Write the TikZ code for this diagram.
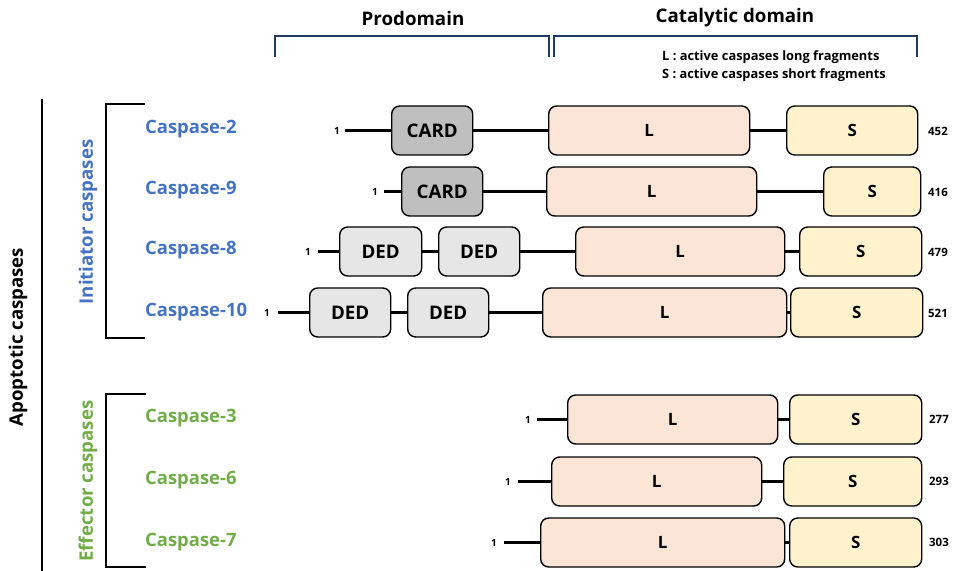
\documentclass[tikz,border=0pt]{standalone}
\usepackage{fontspec}
\setmainfont{Open Sans}
\definecolor{initblue}{HTML}{4472C4}
\definecolor{effgreen}{HTML}{70AD47}
\definecolor{navy}{HTML}{1F3864}
\definecolor{cardgray}{HTML}{BFBFBF}
\definecolor{dedgray}{HTML}{E7E6E6}
\definecolor{lfill}{HTML}{FBE5D6}
\definecolor{sfill}{HTML}{FFF2CC}
\tikzset{
  dom/.style={draw=black, line width=1.4bp, rounded corners=8bp, inner sep=0pt,
    minimum height=49bp, anchor=west, font=\bfseries\fontsize{18.8}{18.8}\selectfont},
  cardbox/.style={dom, fill=cardgray},
  dedbox/.style={dom, fill=dedgray},
  lbox/.style={dom, fill=lfill, font=\bfseries\fontsize{17}{17}\selectfont},
  sbox/.style={dom, fill=sfill, font=\bfseries\fontsize{17}{17}\selectfont},
  conn/.style={line width=3bp, black},
  onelab/.style={font=\bfseries\fontsize{10}{10}\selectfont, inner sep=0pt, anchor=center},
  numlab/.style={font=\bfseries\fontsize{11.5}{11.5}\selectfont, inner sep=0pt, anchor=center},
  casp/.style={font=\bfseries\fontsize{18.5}{18.5}\selectfont, anchor=west, inner sep=0pt},
  grp/.style={font=\bfseries\fontsize{18.7}{18.7}\selectfont, rotate=90, inner sep=0pt},
  head/.style={font=\bfseries\fontsize{18.8}{18.8}\selectfont, inner sep=0pt},
  legend/.style={font=\bfseries\fontsize{12.9}{12.9}\selectfont, anchor=west, inner sep=0pt},
  brk/.style={line width=2bp},
}
\begin{document}
\begin{tikzpicture}[x=1bp,y=-1bp]
\useasboundingbox (0,0) rectangle (955,571);
% headers
\node[head] (hpro) at (413,18) {Prodomain};
\node[head] (hcat) at (735,18) {Catalytic domain};
\draw[brk, navy] (275,57) -- (275,36) -- (549,36) -- (549,57);
\draw[brk, navy] (554,57) -- (554,36) -- (917,36) -- (917,57);
\node[legend] (legL) at (662,57) {L : active caspases long fragments};
\node[legend] (legS) at (662,75) {S : active caspases short fragments};
% left structure
\draw[brk] (42,99) -- (42,571);
\node[grp] (apo) at (18,337) {Apoptotic caspases};
\draw[brk] (145,104) -- (106,104) -- (106,338) -- (145,338);
\node[grp, initblue] (ini) at (88,222) {Initiator caspases};
\draw[brk] (146,394) -- (106,394) -- (106,567) -- (146,567);
\node[grp, effgreen] (eff) at (88,481) {Effector caspases};
% caspase labels
\node[casp, initblue] (c2) at (145,129) {Caspase-2};
\node[casp, initblue] (c9) at (145,190) {Caspase-9};
\node[casp, initblue] (c8) at (145,250) {Caspase-8};
\node[casp, initblue] (c10) at (145,312) {Caspase-10};
\node[casp, effgreen] (c3) at (145,418) {Caspase-3};
\node[casp, effgreen] (c6) at (145,480) {Caspase-6};
\node[casp, effgreen] (c7) at (145,542) {Caspase-7};
% row 1: caspase-2
\node[onelab] (a1) at (337,130.5) {1};
\coordinate (a1s) at (345,130.5);
\node[cardbox, minimum width=81bp] (a2) at (391,130.5) {CARD};
\node[lbox, minimum width=201bp] (a3) at (548,130.5) {L};
\node[sbox, minimum width=131bp] (a4) at (786,130.5) {S};
\node[numlab] (a5) at (938,131) {452};
\draw[conn] (a1s) -- (a2.west) (a2.east) -- (a3.west) (a3.east) -- (a4.west);
% row 2: caspase-9
\node[onelab] (b1) at (375,191.5) {1};
\coordinate (b1s) at (384,191.5);
\node[cardbox, minimum width=81bp] (b2) at (401,191.5) {CARD};
\node[lbox, minimum width=210bp] (b3) at (546,191.5) {L};
\node[sbox, minimum width=97bp] (b4) at (823,191.5) {S};
\node[numlab] (b5) at (938,192) {416};
\draw[conn] (b1s) -- (b2.west) (b2.east) -- (b3.west) (b3.east) -- (b4.west);
% row 3: caspase-8
\node[onelab] (d1) at (308,251.5) {1};
\coordinate (d1s) at (318,251.5);
\node[dedbox, minimum width=82bp] (d2) at (339,251.5) {DED};
\node[dedbox, minimum width=81bp] (d3) at (438,251.5) {DED};
\node[lbox, minimum width=209bp] (d4) at (575,251.5) {L};
\node[sbox, minimum width=122bp] (d5) at (799,251.5) {S};
\node[numlab] (d6) at (938,252) {479};
\draw[conn] (d1s) -- (d2.west) (d2.east) -- (d3.west) (d3.east) -- (d4.west) (d4.east) -- (d5.west);
% row 4: caspase-10
\node[onelab] (e1) at (267,312.5) {1};
\coordinate (e1s) at (278,312.5);
\node[dedbox, minimum width=81bp] (e2) at (309,312.5) {DED};
\node[dedbox, minimum width=81bp] (e3) at (407,312.5) {DED};
\node[lbox, minimum width=244bp] (e4) at (542,312.5) {L};
\node[sbox, minimum width=132bp] (e5) at (790,312.5) {S};
\node[numlab] (e6) at (938,313) {521};
\draw[conn] (e1s) -- (e2.west) (e2.east) -- (e3.west) (e3.east) -- (e4.west) (e4.east) -- (e5.west);
% row 5: caspase-3
\node[onelab] (f1) at (528,419.5) {1};
\coordinate (f1s) at (537,419.5);
\node[lbox, minimum width=210bp] (f2) at (567,419.5) {L};
\node[sbox, minimum width=132bp] (f3) at (789,419.5) {S};
\node[numlab] (f4) at (939,419.5) {277};
\draw[conn] (f1s) -- (f2.west) (f2.east) -- (f3.west);
% row 6: caspase-6
\node[onelab] (g1) at (508,481.5) {1};
\coordinate (g1s) at (518,481.5);
\node[lbox, minimum width=210bp] (g2) at (551,481.5) {L};
\node[sbox, minimum width=138bp] (g3) at (783,481.5) {S};
\node[numlab] (g4) at (939,481.5) {293};
\draw[conn] (g1s) -- (g2.west) (g2.east) -- (g3.west);
% row 7: caspase-7
\node[onelab] (h1) at (494,542.5) {1};
\coordinate (h1s) at (504,542.5);
\node[lbox, minimum width=244bp] (h2) at (540,542.5) {L};
\node[sbox, minimum width=132bp] (h3) at (789,542.5) {S};
\node[numlab] (h4) at (939,542.5) {303};
\draw[conn] (h1s) -- (h2.west) (h2.east) -- (h3.west);
\end{tikzpicture}
\end{document}
